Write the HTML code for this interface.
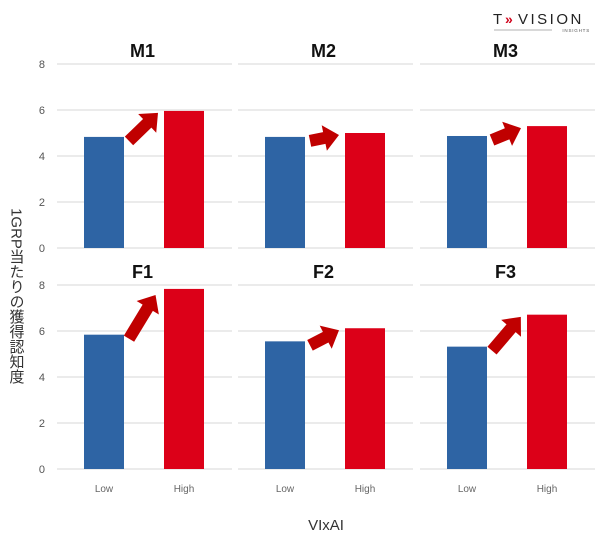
<!DOCTYPE html>
<html><head><meta charset="utf-8"><style>
body{margin:0;background:#fff;width:600px;height:545px;overflow:hidden;font-family:"Liberation Sans","Noto Sans CJK JP",sans-serif}
svg{display:block}
</style></head><body>
<svg id="c" width="600" height="545" xmlns="http://www.w3.org/2000/svg">
<g>
<text x="493" y="24" font-size="15" letter-spacing="2.5" fill="#222" font-family="Liberation Sans,sans-serif">T</text>
<text x="505" y="24" font-size="14" fill="#d0021b" font-weight="bold">»</text>
<text x="518" y="24" font-size="15" letter-spacing="2.5" fill="#222">VISION</text>
<line x1="494" y1="30" x2="552" y2="30" stroke="#999" stroke-width="0.8"/>
<text x="590" y="32" font-size="4.5" text-anchor="end" fill="#555" letter-spacing="0.8">INSIGHTS</text>
</g>
<text x="16" y="296" font-size="15" fill="#333" style="writing-mode:vertical-rl;text-orientation:mixed" text-anchor="middle">1GRP当たりの獲得認知度</text>
<text x="326" y="530" font-size="15" fill="#333" text-anchor="middle">VIxAI</text>
</svg>
<script>
const panels=["M1","M2","M3","F1","F2","F3"];
const categories=["Low","High"];
const lowValues=[4.83,4.83,4.87,5.84,5.55,5.32];
const highValues=[5.96,5.0,5.3,7.83,6.12,6.71];
const yTicks=[0,2,4,6,8];
const svg=document.getElementById('c');
const NS='http://www.w3.org/2000/svg';
const colX=[57,238,420], rowY0=[248,469], unit=23, pw=175;
function mk(t,a,p){const e=document.createElementNS(NS,t);for(const k in a)e.setAttribute(k,a[k]);(p||svg).appendChild(e);return e;}
function yS(r,v){return rowY0[r]-v*unit;}
function xS(c,i){return colX[c]+47+i*80;}
panels.forEach((name,pi)=>{
  const c=pi%3,r=Math.floor(pi/3);
  const g=mk('g',{});
  
  
  yTicks.forEach(t=>{
    const l=mk('line',{x1:colX[c],x2:colX[c]+pw,y1:yS(r,t),y2:yS(r,t),stroke:'#ebebeb','stroke-width':2},g);
    
    
    if(c===0){const tx=mk('text',{x:45,y:yS(r,t)+4,'font-size':11,fill:'#555','text-anchor':'end'},g);tx.textContent=t;
      
      }
  });
  const ti=mk('text',{x:colX[c]+pw/2-2,y:r===0?57:278,'font-size':18,'font-weight':'bold',fill:'#111','text-anchor':'middle'},g);
  ti.textContent=name;
  
  
  const vals=[lowValues[pi],highValues[pi]];
  const cols=['#2e64a4','#dc0018'];
  vals.forEach((v,i)=>{
    const b=mk('rect',{x:xS(c,i)-20,y:yS(r,v),width:40,height:v*unit,fill:cols[i]},g);
    
    
    if(r===1){const lt=mk('text',{x:xS(c,i),y:492,'font-size':10,fill:'#666','text-anchor':'middle'},g);lt.textContent=categories[i];
      
      }
  });
  // arrow: from near low bar top toward high bar top, fixed length
  const x1=xS(c,0)+25,y1=yS(r,vals[0])+4,tx=xS(c,1)-26,ty=yS(r,vals[1])+2;
  let dx=tx-x1,dy=ty-y1;const D=Math.hypot(dx,dy),ux=dx/D,uy=dy/D;
  const len=Math.min(D,44);
  const x2=x1+ux*len+(tx-x1-ux*len)*0.6, y2=y1+uy*len+(ty-y1-uy*len)*0.6;
  const ex=x2-x1,ey=y2-y1,L=Math.hypot(ex,ey),vx=ex/L,vy=ey/L,nx=-vy,ny=vx;
  const hl=15,sw=6,hw=13;
  const bx=x2-vx*hl,by=y2-vy*hl;
  const pts=[[x1+nx*sw,y1+ny*sw],[bx+nx*sw,by+ny*sw],[bx+nx*hw,by+ny*hw],[x2,y2],[bx-nx*hw,by-ny*hw],[bx-nx*sw,by-ny*sw],[x1-nx*sw,y1-ny*sw]];
  const a=mk('polygon',{points:pts.map(p=>p.join(',')).join(' '),fill:'#c00000'},g);
  
  
});
</script>
</body></html>
